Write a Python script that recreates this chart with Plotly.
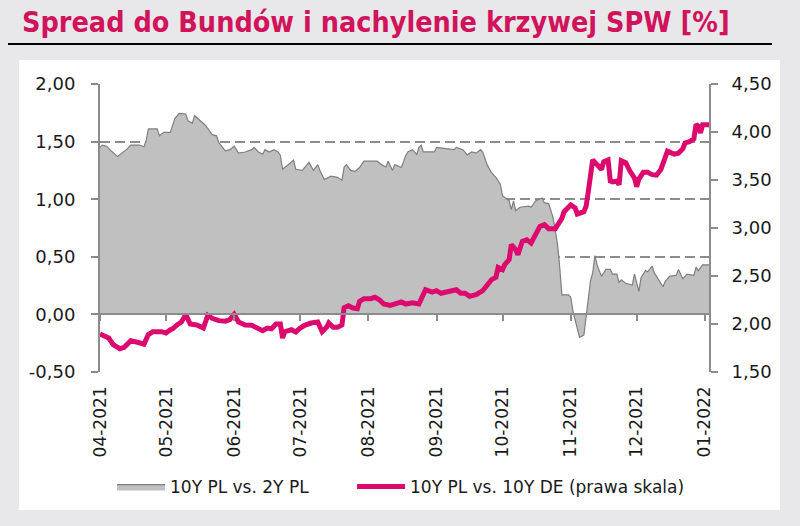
import plotly.graph_objects as go

# 10Y PL vs. 2Y PL (lewa skala)
slope_dates = [
    "2021-04-01", "2021-04-02", "2021-04-04", "2021-04-06", "2021-04-09", "2021-04-11",
    "2021-04-13", "2021-04-15", "2021-04-19", "2021-04-21", "2021-04-22", "2021-04-23",
    "2021-04-27", "2021-04-28", "2021-04-30", "2021-05-03", "2021-05-05", "2021-05-07",
    "2021-05-10", "2021-05-11", "2021-05-13", "2021-05-14", "2021-05-16", "2021-05-19",
    "2021-05-22", "2021-05-24", "2021-05-25", "2021-05-28", "2021-05-30", "2021-06-01",
    "2021-06-03", "2021-06-06", "2021-06-09", "2021-06-10", "2021-06-12", "2021-06-14",
    "2021-06-15", "2021-06-17", "2021-06-19", "2021-06-21", "2021-06-22", "2021-06-23",
    "2021-06-25", "2021-06-28", "2021-06-29", "2021-07-02", "2021-07-03", "2021-07-05",
    "2021-07-07", "2021-07-09", "2021-07-10", "2021-07-12", "2021-07-15", "2021-07-18",
    "2021-07-20", "2021-07-21", "2021-07-22", "2021-07-24", "2021-07-26", "2021-07-28",
    "2021-07-30", "2021-08-05", "2021-08-07", "2021-08-09", "2021-08-10", "2021-08-12",
    "2021-08-13", "2021-08-16", "2021-08-18", "2021-08-19", "2021-08-21", "2021-08-23",
    "2021-08-24", "2021-08-25", "2021-08-26", "2021-08-28", "2021-08-31", "2021-09-01",
    "2021-09-05", "2021-09-09", "2021-09-10", "2021-09-13", "2021-09-15", "2021-09-17",
    "2021-09-19", "2021-09-21", "2021-09-22", "2021-09-24", "2021-09-26", "2021-09-28",
    "2021-09-30", "2021-10-01", "2021-10-03", "2021-10-04", "2021-10-05", "2021-10-06",
    "2021-10-07", "2021-10-09", "2021-10-13", "2021-10-14", "2021-10-16", "2021-10-19",
    "2021-10-20", "2021-10-22", "2021-10-24", "2021-10-26", "2021-10-27", "2021-10-28",
    "2021-10-31", "2021-11-01", "2021-11-02", "2021-11-03", "2021-11-05", "2021-11-07",
    "2021-11-08", "2021-11-10", "2021-11-11", "2021-11-12", "2021-11-13", "2021-11-15",
    "2021-11-17", "2021-11-19", "2021-11-20", "2021-11-22", "2021-11-23", "2021-11-24",
    "2021-11-26", "2021-11-29", "2021-11-30", "2021-12-02", "2021-12-03", "2021-12-05",
    "2021-12-06", "2021-12-08", "2021-12-09", "2021-12-11", "2021-12-13", "2021-12-14",
    "2021-12-16", "2021-12-19", "2021-12-20", "2021-12-22", "2021-12-24", "2021-12-27",
    "2021-12-28", "2021-12-29", "2021-12-31", "2022-01-03",
]
slope_values = [
    1.45, 1.47, 1.46, 1.42, 1.37, 1.40,
    1.43, 1.47, 1.47, 1.455, 1.51, 1.61,
    1.61, 1.55, 1.58, 1.58, 1.70, 1.745,
    1.74, 1.68, 1.66, 1.725, 1.69, 1.64,
    1.56, 1.55, 1.49, 1.42, 1.43, 1.46,
    1.40, 1.41, 1.43, 1.45, 1.41, 1.39,
    1.43, 1.41, 1.43, 1.41, 1.38, 1.26,
    1.29, 1.34, 1.26, 1.25, 1.275, 1.32,
    1.25, 1.30, 1.25, 1.17, 1.20, 1.19,
    1.165, 1.28, 1.30, 1.25, 1.24, 1.275,
    1.33, 1.33, 1.30, 1.28, 1.33, 1.25,
    1.30, 1.275, 1.38, 1.41, 1.43, 1.39,
    1.45, 1.47, 1.41, 1.41, 1.41, 1.45,
    1.44, 1.43, 1.45, 1.43, 1.385, 1.41,
    1.40, 1.43, 1.41, 1.30, 1.23, 1.19,
    1.13, 1.03, 1.00, 0.99, 0.91, 0.985,
    0.90, 0.93, 0.94, 0.93, 0.985, 1.01,
    0.97, 0.96, 0.84, 0.61, 0.41, 0.17,
    0.17, 0.15, 0.03, -0.04, -0.20, -0.18,
    -0.03, 0.29, 0.36, 0.51, 0.43, 0.33,
    0.39, 0.39, 0.35, 0.35, 0.275, 0.30,
    0.27, 0.255, 0.35, 0.20, 0.32, 0.38,
    0.37, 0.42, 0.36, 0.30, 0.24, 0.29,
    0.33, 0.34, 0.39, 0.31, 0.35, 0.34,
    0.41, 0.38, 0.43, 0.43,
]

# 10Y PL vs. 10Y DE (prawa skala)
spread_dates = [
    "2021-04-01", "2021-04-05", "2021-04-07", "2021-04-10", "2021-04-12", "2021-04-15",
    "2021-04-18", "2021-04-21", "2021-04-23", "2021-04-25", "2021-04-29", "2021-05-01",
    "2021-05-03", "2021-05-04", "2021-05-06", "2021-05-08", "2021-05-10", "2021-05-12",
    "2021-05-15", "2021-05-18", "2021-05-20", "2021-05-22", "2021-05-25", "2021-05-28",
    "2021-05-30", "2021-06-01", "2021-06-03", "2021-06-06", "2021-06-09", "2021-06-11",
    "2021-06-14", "2021-06-16", "2021-06-18", "2021-06-20", "2021-06-22", "2021-06-23",
    "2021-06-24", "2021-06-27", "2021-06-29", "2021-07-01", "2021-07-03", "2021-07-06",
    "2021-07-09", "2021-07-11", "2021-07-13", "2021-07-14", "2021-07-16", "2021-07-18",
    "2021-07-20", "2021-07-21", "2021-07-23", "2021-07-25", "2021-07-27", "2021-07-28",
    "2021-07-30", "2021-08-02", "2021-08-04", "2021-08-06", "2021-08-08", "2021-08-11",
    "2021-08-14", "2021-08-16", "2021-08-18", "2021-08-21", "2021-08-24", "2021-08-25",
    "2021-08-27", "2021-08-30", "2021-09-01", "2021-09-03", "2021-09-06", "2021-09-08",
    "2021-09-10", "2021-09-12", "2021-09-14", "2021-09-16", "2021-09-19", "2021-09-22",
    "2021-09-24", "2021-09-26", "2021-09-28", "2021-09-29", "2021-10-01", "2021-10-02",
    "2021-10-04", "2021-10-05", "2021-10-07", "2021-10-08", "2021-10-10", "2021-10-12",
    "2021-10-14", "2021-10-16", "2021-10-18", "2021-10-20", "2021-10-22", "2021-10-25",
    "2021-10-27", "2021-10-28", "2021-10-29", "2021-11-01", "2021-11-03", "2021-11-04",
    "2021-11-07", "2021-11-08", "2021-11-09", "2021-11-10", "2021-11-11", "2021-11-13",
    "2021-11-15", "2021-11-16", "2021-11-18", "2021-11-19", "2021-11-20", "2021-11-22",
    "2021-11-23", "2021-11-24", "2021-11-26", "2021-11-28", "2021-11-30", "2021-12-01",
    "2021-12-02", "2021-12-04", "2021-12-06", "2021-12-08", "2021-12-10", "2021-12-12",
    "2021-12-14", "2021-12-15", "2021-12-18", "2021-12-20", "2021-12-22", "2021-12-23",
    "2021-12-25", "2021-12-27", "2021-12-28", "2021-12-29", "2021-12-30", "2021-12-31",
    "2022-01-02", "2022-01-03",
]
spread_values = [
    1.896, 1.854, 1.785, 1.743, 1.757, 1.826,
    1.81, 1.79, 1.89, 1.92, 1.92, 1.906,
    1.94, 1.95, 1.99, 2.02, 2.10, 2.00,
    1.99, 1.958, 2.09, 2.06, 2.035, 2.03,
    2.045, 2.10, 2.02, 1.99, 1.986, 1.965,
    1.93, 1.958, 1.95, 2.00, 2.00, 1.854,
    1.92, 1.94, 1.917, 1.958, 1.986, 2.01,
    2.02, 1.92, 1.965, 2.01, 1.965, 1.965,
    1.99, 2.17, 2.19, 2.167, 2.16, 2.236,
    2.264, 2.264, 2.278, 2.253, 2.208, 2.194,
    2.208, 2.23, 2.208, 2.22, 2.208, 2.27,
    2.357, 2.333, 2.347, 2.32, 2.34, 2.34,
    2.357, 2.32, 2.32, 2.288, 2.306, 2.347,
    2.41, 2.462, 2.486, 2.59, 2.566, 2.618,
    2.67, 2.826, 2.774, 2.722, 2.861, 2.878,
    2.844, 2.93, 3.017, 3.035, 2.993, 2.993,
    3.07, 3.10, 3.17, 3.24, 3.21, 3.146,
    3.17, 3.226, 3.38, 3.61, 3.71, 3.66,
    3.61, 3.69, 3.71, 3.49, 3.48, 3.49,
    3.45, 3.70, 3.68, 3.59, 3.52, 3.43,
    3.51, 3.58, 3.58, 3.556, 3.55, 3.61,
    3.75, 3.80, 3.77, 3.78, 3.826, 3.886,
    3.90, 3.93, 4.08, 4.06, 3.99, 4.076,
    4.076, 4.076,
]

tick_dates = ["2021-04-01", "2021-05-01", "2021-06-01", "2021-07-01", "2021-08-01",
              "2021-09-01", "2021-10-01", "2021-11-01", "2021-12-01", "2022-01-01"]
tick_labels = ["04-2021", "05-2021", "06-2021", "07-2021", "08-2021",
               "09-2021", "10-2021", "11-2021", "12-2021", "01-2022"]

left_ticks = [-0.5, 0.0, 0.5, 1.0, 1.5, 2.0]
left_labels = ["-0,50", "0,00", "0,50", "1,00", "1,50", "2,00"]
right_ticks = [1.5, 2.0, 2.5, 3.0, 3.5, 4.0, 4.5]
right_labels = ["1,50", "2,00", "2,50", "3,00", "3,50", "4,00", "4,50"]

PINK = "#dc0a6e"
AXIS = "#8c8c8c"
FONT = "DejaVu Sans"

fig = go.Figure()
fig.add_trace(go.Scatter(
    x=slope_dates, y=slope_values, name="10Y PL vs. 2Y PL",
    mode="lines", fill="tozeroy", fillcolor="#c0c0c0",
    line=dict(color="#7f7f7f", width=1.2),
    xaxis="x", yaxis="y", legend="legend",
))
fig.add_trace(go.Scatter(
    x=spread_dates, y=spread_values, name="10Y PL vs. 10Y DE (prawa skala)",
    mode="lines", line=dict(color=PINK, width=5),
    xaxis="x2", yaxis="y2", legend="legend2",
))

x_range = ["2021-04-01", "2022-01-03 08:00"]
legend_style = dict(
    orientation="h", xanchor="left", yanchor="middle", y=(372 - 487) / 288,
    bgcolor="rgba(0,0,0,0)", font=dict(size=17), itemwidth=48,
)

fig.update_layout(
    width=800, height=526,
    margin=dict(l=100, r=90, t=84, b=154, autoexpand=False),
    paper_bgcolor="#e8e8ea",
    plot_bgcolor="rgba(0,0,0,0)",
    font=dict(family=FONT, size=17, color="#1a1a1a"),
    showlegend=True,
    legend=dict(x=(112 - 100) / 610, **legend_style),
    legend2=dict(x=(352 - 100) / 610, **legend_style),
    xaxis=dict(
        type="date", range=x_range, tickvals=tick_dates, ticktext=tick_labels,
        tickangle=-90, showgrid=False, zeroline=False, showline=False, ticks="",
        tickfont=dict(size=17), ticklabelstandoff=10, automargin=False,
    ),
    xaxis2=dict(
        type="date", matches="x", overlaying="x", anchor="free", position=0.2,
        tickvals=tick_dates, showticklabels=False, showgrid=False, zeroline=False,
        showline=True, linecolor=AXIS, linewidth=2,
        ticks="outside", ticklen=6, tickwidth=2, tickcolor=AXIS, automargin=False,
    ),
    yaxis=dict(
        range=[-0.5, 2.0], tickvals=left_ticks, ticktext=left_labels,
        showgrid=True, gridcolor=AXIS, griddash="10px,5px", gridwidth=1.5,
        zeroline=False, showline=True, linecolor=AXIS, linewidth=2,
        ticks="outside", ticklen=7, tickwidth=1.5, tickcolor=AXIS,
        tickfont=dict(size=18), ticklabelstandoff=12, automargin=False,
    ),
    yaxis2=dict(
        range=[1.5, 4.5], tickvals=right_ticks, ticktext=right_labels, side="right",
        overlaying="y", anchor="free", position=1.0,
        showgrid=False, zeroline=False, showline=True, linecolor=AXIS, linewidth=2,
        ticks="outside", ticklen=7, tickwidth=1.5, tickcolor=AXIS,
        tickfont=dict(size=18), ticklabelstandoff=10, automargin=False,
    ),
    title=dict(
        text="Spread do Bundów i nachylenie krzywej SPW [%]",
        x=22 / 800, xanchor="left", xref="container",
        y=1 - 22 / 526, yanchor="middle", yref="container",
        font=dict(family="DejaVu Sans Condensed", size=28.5, color="#d1135b", weight="bold"),
    ),
    shapes=[
        # white panel behind the chart
        dict(type="rect", xref="paper", yref="paper",
             x0=(19 - 100) / 610, x1=(780 - 100) / 610,
             y0=(372 - 510) / 288, y1=(372 - 60) / 288,
             fillcolor="white", line=dict(width=0), layer="below"),
        # black rule under the title
        dict(type="line", xref="paper", yref="paper",
             x0=(8 - 100) / 610, x1=(772 - 100) / 610,
             y0=(372 - 44) / 288, y1=(372 - 44) / 288,
             line=dict(color="black", width=2)),
    ],
)

# the page body has an 8px default margin; drop it so the figure fills the window
fig.write_html("out.html", config={"displayModeBar": False},
               post_script="document.body.style.margin='0';")
